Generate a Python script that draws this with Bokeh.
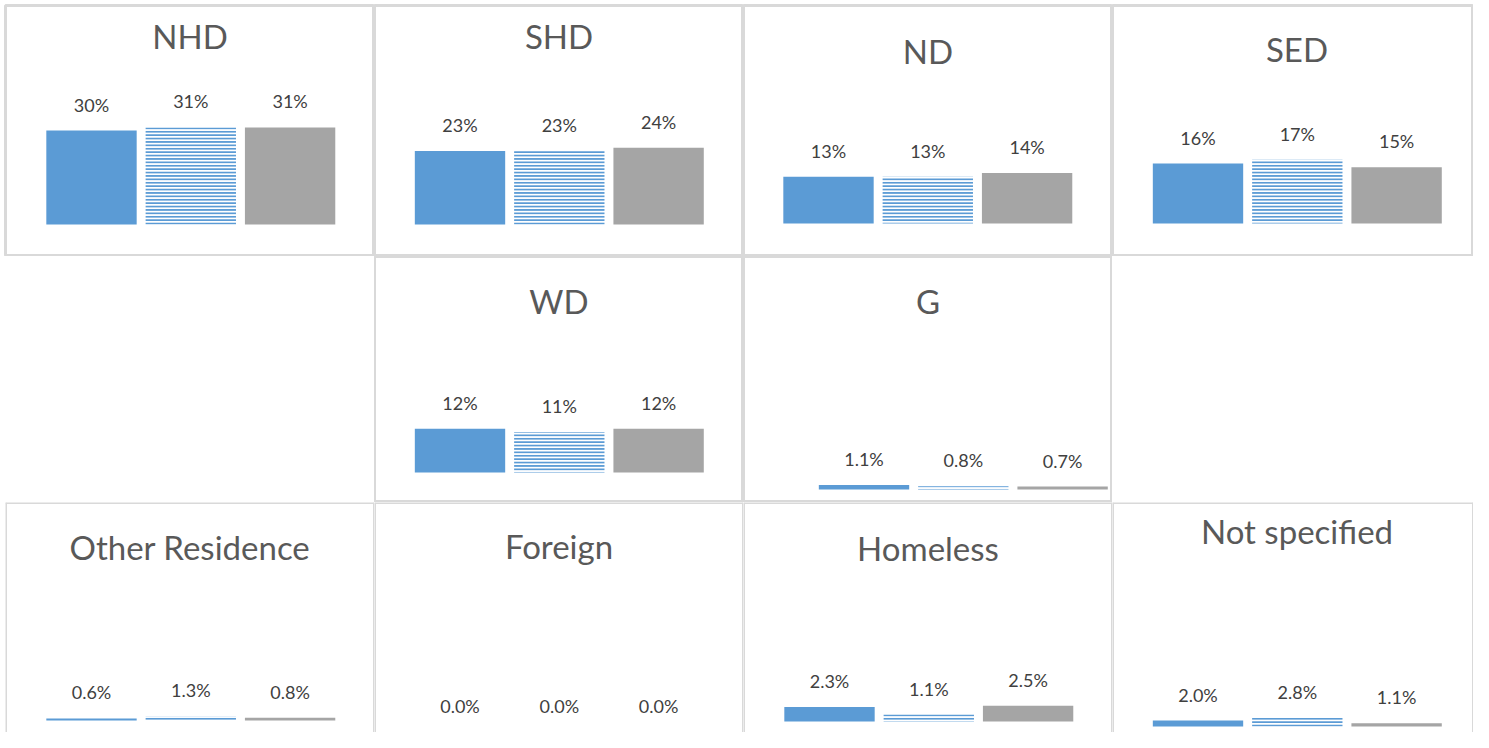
from bokeh.plotting import figure
from bokeh.layouts import gridplot
from bokeh.models import Range1d, Label, ColumnDataSource, CDSView, IndexFilter, Span
from bokeh.core.properties import value
from bokeh.embed import file_html
from bokeh.resources import INLINE

# ---------------- data ----------------
panels = ["NHD", "SHD", "ND", "SED", "WD", "G",
          "Other Residence", "Foreign", "Homeless", "Not specified"]
series_1 = [30, 23, 13, 16, 12, 1.1, 0.6, 0.0, 2.3, 2.0]
series_2 = [31, 23, 13, 17, 11, 0.8, 1.3, 0.0, 1.1, 2.8]
series_3 = [31, 24, 14, 15, 12, 0.7, 0.8, 0.0, 2.5, 1.1]
label_decimals = [0, 0, 0, 0, 0, 1, 1, 1, 1, 1]

# ---------------- layout / style ----------------
grid_pos = [(0, 0), (0, 1), (0, 2), (0, 3), (1, 1), (1, 2),
            (2, 0), (2, 1), (2, 2), (2, 3)]
col_left = [0, 374, 743, 1112]
col_w = [374, 369, 369, 361]
col_center = [189.5, 558.5, 927.5, 1296.5]
row_top = [0, 256, 502]
row_h = [256, 246, 230]
pad_left = [5, 0, 0, 0]
pad_top = [5, 0, 0]
first_center = [91, 459.5, 828, 1197.5, 459.5, 863.5, 91, 459.5, 829, 1197.5]
baseline_px = [224, 224, 223, 223, 472, 489, 720, 731, 721, 726]
px_per_pct = [3.13, 3.2, 3.6, 3.75, 3.65, 4.2, 3.5, 3.5, 6.35, 3.0]
title_px = [35, 35, 50, 48, 300, 300, 546, 545, 547, 530]
step_px = 99.3
bar_w = 0.91

BLUE = "#5B9BD5"
GRAY = "#A5A5A5"
BORDER = "#D9D9D9"
FONT = "Lato"

grid = [[None] * 4 for _ in range(3)]

for k, name in enumerate(panels):
    r, c = grid_pos[k]
    w, h = col_w[c], row_h[r]
    fl = col_left[c] + pad_left[c]
    fw = w - pad_left[c]
    ft = row_top[r] + pad_top[r]
    fh = h - pad_top[r]
    s = px_per_pct[k]
    b = baseline_px[k]
    c0 = first_center[k]

    xs = -(c0 - fl) / step_px
    ys = -(ft + fh - b) / s
    p = figure(width=w, height=h, output_backend="svg", toolbar_location=None,
               x_axis_type=None, y_axis_type=None,
               x_range=Range1d(xs, xs + fw / step_px),
               y_range=Range1d(ys, (b - ft) / s),
               min_border=0, min_border_left=pad_left[c], min_border_right=0,
               min_border_top=pad_top[r], min_border_bottom=0)
    p.background_fill_color = "white"
    p.border_fill_color = "white"
    p.grid.visible = False
    if r < 2:
        p.outline_line_color = BORDER
        p.outline_line_width = 3
    else:
        p.outline_line_color = None
        for loc, dim in ((p.x_range.start, "height"), (p.x_range.end, "height"),
                         (p.y_range.end, "width")):
            p.add_layout(Span(location=loc, dimension=dim,
                              line_color=BORDER, line_width=3))

    vals = [series_1[k], series_2[k], series_3[k]]
    fmt = "{:.%df}%%" % label_decimals[k]
    src = ColumnDataSource(dict(x=[0, 1, 2], top=vals,
                                label=[fmt.format(v) for v in vals]))

    p.vbar(x="x", top="top", bottom=0, width=bar_w, source=src,
           view=CDSView(filter=IndexFilter([0])),
           fill_color=BLUE, line_color=None)
    p.vbar(x="x", top="top", bottom=0, width=bar_w, source=src,
           view=CDSView(filter=IndexFilter([1])),
           fill_color="white", line_color=None,
           hatch_pattern="horizontal_line", hatch_color=BLUE,
           hatch_scale=3.4, hatch_weight=2)
    p.vbar(x="x", top="top", bottom=0, width=bar_w, source=src,
           view=CDSView(filter=IndexFilter([2])),
           fill_color=GRAY, line_color=None)

    p.text(x="x", y="top", text="label", source=src,
           text_font=value(FONT), text_font_size="18px", text_color="#404040",
           text_align="center", text_baseline="middle", y_offset=-26)

    p.add_layout(Label(x=(col_center[c] - c0) / step_px, x_units="data",
                       y=(b - title_px[k]) / s, y_units="data",
                       text=name, text_align="center", text_baseline="middle",
                       text_font=FONT, text_font_size="33px",
                       text_color="#595959"))
    grid[r][c] = p

layout = gridplot(grid, toolbar_location=None)

open("out.html", "w").write(file_html(layout, INLINE))
